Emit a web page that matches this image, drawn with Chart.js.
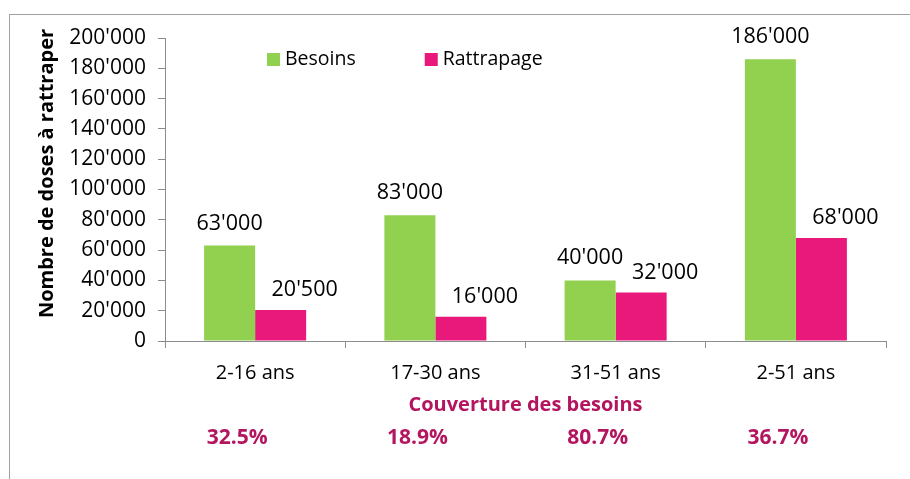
<!DOCTYPE html>
<html lang="fr">
  <head>
    <meta charset="UTF-8" />
    <title>Nombre de doses à rattraper</title>
    <script src="https://cdn.jsdelivr.net/npm/chart.js"></script>
    <style>
      html, body { margin: 0; padding: 0; background: #fff; }
      #wrap { position: relative; width: 910px; height: 479px; overflow: hidden; }
      #frame {
        position: absolute; left: 9px; top: 14px; width: 1000px; height: 600px;
        border-top: 1.5px solid #a0a0a0; border-left: 1.5px solid #a0a0a0;
      }
      canvas { position: absolute; left: 0; top: 0; }
    </style>
  </head>
  <body>
    <div id="wrap">
      <div id="frame"></div>
      <canvas id="chart" width="910" height="479"></canvas>
    </div>

    <script>
      const categories = ["2-16 ans", "17-30 ans", "31-51 ans", "2-51 ans"];
      const besoins = [63000, 83000, 40000, 186000];
      const rattrapage = [20500, 16000, 32000, 68000];
      const couverture = ["32.5%", "18.9%", "80.7%", "36.7%"];
      const yTicks = [0, 20000, 40000, 60000, 80000, 100000, 120000, 140000, 160000, 180000, 200000];
      const yTitle = "Nombre de doses à rattraper";

      const FONT = "'Open Sans', 'Noto Sans', sans-serif";
      const GREEN = "#92d050";
      const PINK = "#e8197a";
      const MAGENTA = "#b3165f";
      const AXIS = "#8c8c8c";

      const fmt = (v) => {
        const s = String(Math.round(v));
        return s.length > 3 ? s.slice(0, -3) + "'" + s.slice(-3) : s;
      };

      // étiquettes de valeurs, légende, titre vertical et ligne des pourcentages
      const extras = {
        id: "extras",
        afterDatasetsDraw(chart) {
          const ctx = chart.ctx;
          const area = chart.chartArea;
          const x = chart.scales.x;
          ctx.save();

          ctx.font = "21.5px " + FONT;
          ctx.fillStyle = "#000";
          ctx.textAlign = "center";
          ctx.textBaseline = "alphabetic";
          chart.getDatasetMeta(0).data.forEach((bar, i) => {
            ctx.fillText(fmt(besoins[i]), bar.x, bar.y - 16);
          });
          chart.getDatasetMeta(1).data.forEach((bar, i) => {
            ctx.fillText(fmt(rattrapage[i]), bar.x + 24, bar.y - 14);
          });

          // légende
          ctx.textAlign = "left";
          ctx.textBaseline = "middle";
          ctx.font = "19.5px " + FONT;
          let lx = area.left + 102;
          const ly = area.top + 21;
          chart.data.datasets.forEach((ds) => {
            ctx.fillStyle = ds.backgroundColor;
            ctx.fillRect(lx, ly - 6, 13, 13);
            ctx.fillStyle = "#000";
            ctx.fillText(ds.label, lx + 18, ly);
            lx += 18 + ctx.measureText(ds.label).width + 69;
          });

          // titre de l'axe vertical
          ctx.save();
          ctx.translate(47, (area.top + area.bottom) / 2 - 16);
          ctx.rotate(-Math.PI / 2);
          ctx.font = "bold 20px " + FONT;
          ctx.fillStyle = "#000";
          ctx.textAlign = "center";
          ctx.fillText(yTitle, 0, 0);
          ctx.restore();

          // couverture des besoins
          ctx.font = "bold 21px " + FONT;
          ctx.fillStyle = MAGENTA;
          ctx.textAlign = "center";
          ctx.textBaseline = "middle";
          couverture.forEach((p, i) => {
            ctx.fillText(p, x.getPixelForValue(i) - 18, 438);
          });
          ctx.restore();
        },
      };

      new Chart(document.getElementById("chart"), {
        type: "bar",
        data: {
          labels: categories,
          datasets: [
            { label: "Besoins", data: besoins, backgroundColor: GREEN },
            { label: "Rattrapage", data: rattrapage, backgroundColor: PINK },
          ],
        },
        options: {
          responsive: false,
          animation: false,
          layout: { padding: { left: 0, right: 24, top: 38, bottom: 62 } },
          categoryPercentage: 0.566,
          barPercentage: 1,
          plugins: { legend: { display: false }, tooltip: { enabled: false } },
          scales: {
            x: {
              grid: { offset: true, drawOnChartArea: false, drawTicks: true, tickLength: 7, color: AXIS },
              border: { color: AXIS },
              ticks: { color: "#000", font: { family: FONT, size: 20 }, padding: 13 },
              title: {
                display: true,
                text: "Couverture des besoins",
                color: MAGENTA,
                font: { family: FONT, size: 20, weight: "bold" },
                padding: { top: -5, bottom: 0 },
              },
            },
            y: {
              min: 0,
              max: 200000,
              afterFit: (s) => { s.width = 165; },
              afterBuildTicks: (s) => { s.ticks = yTicks.map((v) => ({ value: v })); },
              grid: { drawOnChartArea: false, drawTicks: true, tickLength: 7, color: AXIS },
              border: { color: AXIS },
              ticks: { color: "#000", font: { family: FONT, size: 21 }, padding: 12, callback: (v) => fmt(v) },
            },
          },
        },
        plugins: [extras],
      });
    </script>
  </body>
</html>
